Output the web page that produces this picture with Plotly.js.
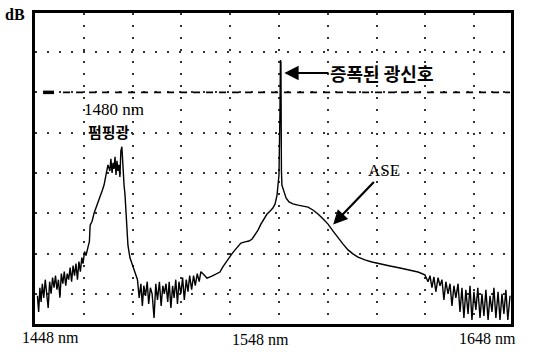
<!DOCTYPE html>
<html>
<head>
<meta charset="utf-8">
<script src="https://cdn.plot.ly/plotly-3.0.1.min.js"></script>
<style>html,body{margin:0;padding:0;background:#fff;}#chart{width:550px;height:352px;}</style>
</head>
<body>
<div id="chart"></div>
<script>
// Wavelength (nm) and optical power (dB, relative)
const wavelength = [
  1449.0,1449.5,1450.0,1450.5,1451.0,1451.6,1452.2,1452.8,1453.4,1454.0,1454.6,1455.2,1455.8,1456.4,1457.0,1457.6,
  1458.2,1458.8,1459.4,1460.0,1460.6,1461.2,1461.8,1462.4,1463.0,1463.6,1464.2,1464.8,1465.4,1466.0,1466.6,1467.2,
  1467.7,1468.3,1468.9,1469.7,1470.3,1470.6,1471.4,1472.2,1473.0,1473.8,1474.6,1475.5,1476.3,1477.1,1477.9,1478.7,
  1479.1,1479.6,1480.0,1480.4,1480.8,1481.2,1481.6,1482.0,1482.4,1482.8,1483.2,1483.6,1484.1,1484.5,1484.9,1485.3,
  1485.7,1486.1,1486.9,1487.8,1488.6,1489.4,
  1490.0,1490.7,1491.4,1492.0,1492.6,1493.3,1494.0,1494.6,1495.3,1496.0,1496.8,1497.5,1498.2,1499.0,1499.7,1500.4,
  1501.0,1501.7,1502.4,1503.0,1503.7,1504.4,1505.0,1505.7,1506.4,1507.0,1507.8,1508.5,1509.2,1510.0,1510.7,1511.4,
  1512.2,1513.0,1513.7,1514.5,1515.3,1516.0,
  1518.5,1520.5,1522.2,1523.8,1525.0,1526.3,1527.5,1528.7,1530.0,1531.2,1532.4,1534.1,1535.7,1537.0,1538.2,1539.4,
  1540.6,1541.9,1543.1,1544.3,1545.5,1546.4,1547.2,1547.6,1548.0,1548.4,1548.6,1548.8,1549.0,1549.2,1550.1,1550.9,
  1552.1,1553.7,1555.8,1557.8,1559.9,1561.9,1564.0,1566.0,1568.1,1570.1,1572.2,1574.2,1576.3,1578.3,1580.4,1583.2,
  1586.1,1589.4,1593.5,1597.6,1601.7,1605.0,1607.8,
  1609.1,1609.9,1610.7,1611.5,1612.3,1613.2,1614.0,1614.8,1615.6,1616.4,1617.3,1618.1,1618.9,1619.7,1620.5,1621.4,
  1622.2,1623.0,1623.8,1624.6,1625.5,1626.3,1627.1,1627.9,1628.7,1629.5,1630.4,1631.2,1632.0,1632.8,1633.7,1634.5,
  1635.3,1636.1,1636.9,1637.8,1638.6,1639.4,1640.2,1641.0,1641.8,1642.7
];
const power = [
  -60.5,-64.5,-58.5,-62.0,-57.5,-61.0,-56.5,-59.5,-63.5,-57.0,-60.0,-56.0,-58.5,-55.5,-59.0,-56.5,
  -61.0,-55.0,-57.5,-54.5,-58.0,-55.0,-56.5,-53.5,-57.0,-53.0,-55.5,-52.5,-56.5,-52.0,-54.5,-51.0,
  -52.5,-49.5,-50.5,-48.5,-47.0,-43.0,-42.0,-40.0,-38.5,-37.5,-36.0,-34.5,-33.0,-30.5,-28.0,-29.5,
  -26.5,-30.0,-27.5,-29.0,-26.0,-30.5,-27.0,-29.5,-28.0,-31.0,-24.5,-23.5,-31.0,-33.0,-35.5,-40.0,
  -44.0,-48.0,-51.0,-52.5,-54.0,-55.5,
  -56.5,-61.0,-57.5,-63.0,-58.0,-60.5,-57.0,-62.5,-58.5,-60.0,-66.0,-57.5,-61.5,-57.0,-63.0,-58.0,
  -60.0,-57.5,-62.0,-57.0,-63.5,-58.0,-61.0,-56.5,-62.5,-57.0,-60.0,-56.0,-61.5,-56.5,-59.5,-55.5,
  -59.0,-55.5,-58.0,-55.0,-57.0,-54.5,
  -56.1,-55.6,-55.1,-54.6,-53.3,-52.1,-51.1,-50.1,-49.1,-48.1,-47.4,-47.1,-46.9,-46.4,-45.4,-44.2,
  -42.7,-41.2,-40.2,-39.5,-38.7,-37.7,-35.5,-33.0,-30.5,-15.0,-2.0,-2.5,-29.3,-33.0,-34.7,-36.2,
  -37.2,-37.7,-38.0,-38.2,-38.5,-39.2,-40.2,-41.4,-42.7,-44.4,-46.2,-47.6,-49.1,-50.1,-50.9,-51.6,
  -52.1,-52.6,-53.1,-53.6,-54.1,-54.6,-55.3,
  -57.0,-55.5,-58.5,-55.8,-59.5,-56.0,-58.0,-56.5,-61.5,-57.0,-60.0,-57.5,-63.0,-58.0,-61.0,-57.5,
  -64.5,-58.5,-66.0,-59.0,-65.0,-58.0,-66.5,-59.5,-64.0,-58.5,-66.0,-60.0,-65.5,-59.0,-66.5,-60.5,
  -64.5,-58.5,-66.0,-59.5,-66.5,-60.0,-65.0,-59.0,-66.5,-60.5
];
const refLevel = -10;
const xTickLabels = ["1448 nm", "1548 nm", "1648 nm"];
const yUnit = "dB";
const pumpLabel = ["1480 nm", "펌핑광"];
const signalLabel = "증폭된 광신호";
const aseLabel = "ASE";

const serif = "Liberation Serif, Times New Roman, serif";
const kr = "Noto Sans CJK KR, sans-serif";

const trace = {
  x: wavelength, y: power, type: "scatter", mode: "lines",
  line: {color: "#000", width: 1.4}, hoverinfo: "skip"
};

const layout = {
  width: 550, height: 352,
  margin: {l: 35, r: 39, t: 13, b: 28, pad: 0},
  paper_bgcolor: "#fff", plot_bgcolor: "#fff",
  showlegend: false,
  xaxis: {
    range: [1448, 1643.1], tick0: 1448, dtick: 20, showticklabels: false, ticks: "",
    showgrid: true, gridcolor: "#333", gridwidth: 2, griddash: "2px,10px",
    zeroline: false, showline: true, linecolor: "#000", linewidth: 3, mirror: true
  },
  yaxis: {
    range: [-67.5, 9.7], tick0: 0, dtick: 10, showticklabels: false, ticks: "",
    showgrid: true, gridcolor: "#333", gridwidth: 2, griddash: "2px,10px",
    zeroline: false, showline: true, linecolor: "#000", linewidth: 3, mirror: true
  },
  shapes: [
    {type: "line", xref: "x", yref: "y", x0: 1459.5, x1: 1642.7, y0: refLevel, y1: refLevel,
     line: {color: "#000", width: 1.8, dash: "7px,6px"}},
    {type: "line", xref: "x", yref: "y", x0: 1451.3, x1: 1455.8, y0: refLevel, y1: refLevel,
     line: {color: "#000", width: 3.5}}
  ],
  annotations: [
    {xref: "paper", yref: "paper", x: -0.042, y: 0.995, text: "<b>" + yUnit + "</b>", showarrow: false,
     font: {family: serif, size: 16, color: "#000"}, xanchor: "center", yanchor: "middle"},
    {xref: "paper", yref: "paper", x: 0.032, y: -0.045, text: xTickLabels[0], showarrow: false,
     font: {family: serif, size: 16, color: "#000"}, xanchor: "center", yanchor: "middle"},
    {xref: "paper", yref: "paper", x: 0.473, y: -0.05, text: xTickLabels[1], showarrow: false,
     font: {family: serif, size: 16, color: "#000"}, xanchor: "center", yanchor: "middle"},
    {xref: "paper", yref: "paper", x: 0.950, y: -0.048, text: xTickLabels[2], showarrow: false,
     font: {family: serif, size: 16, color: "#000"}, xanchor: "center", yanchor: "middle"},
    {xref: "x", yref: "y", x: 1480.5, y: -14.2, text: pumpLabel[0], showarrow: false,
     font: {family: serif, size: 17, color: "#000"}, xanchor: "center", yanchor: "middle"},
    {xref: "x", yref: "y", x: 1478.5, y: -19.8, text: "<b>" + pumpLabel[1] + "</b>", showarrow: false,
     font: {family: kr, size: 15, color: "#000"}, xanchor: "center", yanchor: "middle"},
    // signal label: text placed at (ax, ay), arrow tip at the spike
    {xref: "x", yref: "y", axref: "x", ayref: "y", x: 1550.2, y: -5.2, ax: 1590.0, ay: -5.2,
     text: "<b>" + signalLabel + "</b>", showarrow: true,
     arrowhead: 2, arrowsize: 1.3, arrowwidth: 2.2, arrowcolor: "#000", standoff: 0, startstandoff: 0,
     font: {family: kr, size: 18, color: "#000"}},
    // ASE label with arrow to the ASE slope
    {xref: "x", yref: "y", axref: "x", ayref: "y", x: 1570.2, y: -42.8, ax: 1591.2, ay: -29.5,
     text: aseLabel, showarrow: true,
     arrowhead: 2, arrowsize: 1.3, arrowwidth: 2.2, arrowcolor: "#000", standoff: 0, startstandoff: 0,
     font: {family: serif, size: 17, color: "#000"}}
  ]
};

Plotly.newPlot("chart", [trace], layout, {staticPlot: true, displayModeBar: false});
</script>
</body>
</html>
